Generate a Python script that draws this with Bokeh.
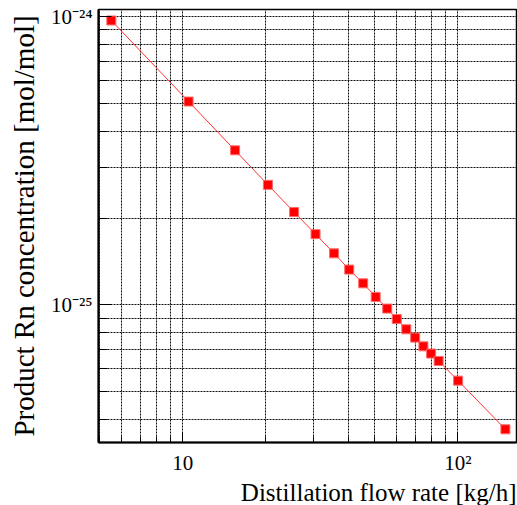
from bokeh.plotting import figure
from bokeh.models import FixedTicker, Range1d, Title
from bokeh.embed import file_html
from bokeh.resources import INLINE

# Data
flow_rate = [5.5, 10.5, 15.5, 20.4, 25.4, 30.4, 35.5, 40.3, 45.3, 50.3, 55.4,
             60, 65, 70, 75, 80, 85.2, 100.3, 149]
rn_conc = [9.71e-25, 5.08e-25, 3.44e-25, 2.61e-25, 2.10e-25, 1.76e-25, 1.51e-25,
           1.326e-25, 1.188e-25, 1.066e-25, 9.71e-26, 8.94e-26, 8.23e-26, 7.70e-26,
           7.18e-26, 6.78e-26, 6.39e-26, 5.46e-26, 3.70e-26]

x_major = [10, 100]
x_minor = [5, 6, 7, 8, 9, 20, 30, 40, 50, 60, 70, 80, 90]
x_labels = {10: "10", 100: "10²"}
y_major = [1e-25, 1e-24]
y_minor = [4e-26, 5e-26, 6e-26, 7e-26, 8e-26, 9e-26,
           2e-25, 3e-25, 4e-25, 5e-25, 6e-25, 7e-25, 8e-25, 9e-25]
y_labels = {1e-25: "10⁻²⁵", 1e-24: "10⁻²⁴"}
x_title = "Distillation flow rate [kg/h]"
y_title = "Product Rn concentration [mol/mol]"

X0, X1 = 4.94, 163.5
Y0, Y1 = 3.33e-26, 1.06e-24
FONT = "Liberation Serif"

p = figure(width=517, height=505, x_axis_type="log", y_axis_type="log",
           x_range=Range1d(X0, X1), y_range=Range1d(Y0, Y1),
           output_backend="svg", toolbar_location=None,
           min_border_left=98, min_border_right=1, min_border_top=9,
           min_border_bottom=63)
p.background_fill_color = "white"
p.border_fill_color = "white"
p.outline_line_color = "black"
p.outline_line_width = 1.5

xt = FixedTicker(ticks=x_major, minor_ticks=x_minor)
yt = FixedTicker(ticks=y_major, minor_ticks=y_minor)
p.xaxis.ticker = xt
p.yaxis.ticker = yt
p.xgrid.ticker = xt
p.ygrid.ticker = yt
p.xaxis.major_label_overrides = x_labels
p.yaxis.major_label_overrides = y_labels

for g in (p.xgrid, p.ygrid):
    g.grid_line_color = "black"
    g.grid_line_dash = "2 1"
    g.grid_line_width = 1
    g.grid_line_alpha = 0.95
    g.minor_grid_line_color = "black"
    g.minor_grid_line_dash = "2 1"
    g.minor_grid_line_width = 1
    g.minor_grid_line_alpha = 0.95

for ax in (p.xaxis, p.yaxis):
    ax.axis_line_color = "black"
    ax.axis_line_width = 2
    ax.major_tick_line_color = "black"
    ax.minor_tick_line_color = "black"
    ax.major_tick_out = 0
    ax.minor_tick_out = 0
    ax.major_label_text_font = FONT
    ax.major_label_text_font_size = "21px"
    ax.major_label_text_color = "black"
    ax.axis_label_text_font = FONT
    ax.axis_label_text_font_style = "normal"
    ax.axis_label_text_color = "black"
p.yaxis.major_tick_in = 13
p.yaxis.minor_tick_in = 9
p.xaxis.major_tick_in = 10
p.xaxis.minor_tick_in = 6

p.xaxis.major_label_standoff = 8
p.yaxis.major_label_standoff = 6
p.yaxis.axis_label = y_title
p.yaxis.axis_label_text_font_size = "29px"
p.yaxis.axis_label_standoff = 8

p.add_layout(Title(text=x_title, align="right", text_font=FONT,
                   text_font_size="25px", text_font_style="normal",
                   text_color="black", standoff=-2, offset=0), "below")

p.line(flow_rate, rn_conc, line_color="#ff3030", line_width=1)
p.scatter(flow_rate, rn_conc, marker="square", size=9, fill_color="#ff0000",
          line_color="#ff6a6a", line_width=1)

open("out.html", "w").write(file_html(p, INLINE))
